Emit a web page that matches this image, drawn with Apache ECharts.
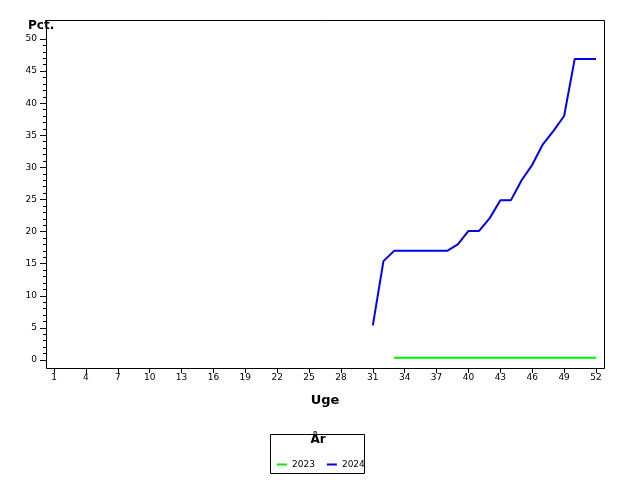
<!DOCTYPE html>
<html><head><meta charset="utf-8">
<script src="https://cdn.jsdelivr.net/npm/echarts@6/dist/echarts.min.js"></script>
<style>html,body{margin:0;padding:0;background:#fff}#c{width:640px;height:480px}</style>
</head><body><div id="c"></div>
<script>
const weeks = Array.from({length:52},(_,i)=>String(i+1));
const s2023 = [null,null,null,null,null,null,null,null,null,null,null,null,null,null,null,null,null,null,null,null,null,null,null,null,null,null,null,null,null,null,null,null,
 0.35,0.35,0.35,0.35,0.35,0.35,0.35,0.35,0.35,0.35,0.35,0.35,0.35,0.35,0.35,0.35,0.35,0.35,0.35,0.35];
const s2024 = [null,null,null,null,null,null,null,null,null,null,null,null,null,null,null,null,null,null,null,null,null,null,null,null,null,null,null,null,null,null,
 5.4,15.4,17.0,17.0,17.0,17.0,17.0,17.0,18.0,20.1,20.1,22.1,24.9,24.9,28.0,30.4,33.6,35.7,38.0,46.9,46.9,46.9];
const ch = echarts.init(document.getElementById('c'));
const f = {fontFamily:'DejaVu Sans', fontSize:9, color:'#000'};
ch.setOption({
  animation:false,
  grid:{left:54,right:44,top:39,bottom:120},
  xAxis:{type:'category',data:weeks,boundaryGap:false,offset:8,
    name:'Uge',nameLocation:'middle',nameGap:26,nameTextStyle:{fontFamily:'DejaVu Sans',fontSize:13,fontWeight:'bold',color:'#000'},
    axisLine:{onZero:false,lineStyle:{color:'#000'}},axisTick:{interval:2,length:5,lineStyle:{color:'#000'}},
    axisLabel:Object.assign({interval:2,margin:5},f),splitLine:{show:false}},
  yAxis:{type:'value',min:0,max:50,interval:5,offset:8,
    axisLine:{show:true,onZero:false,lineStyle:{color:'#000'}},axisTick:{show:true,length:6,lineStyle:{color:'#000'}},
    minorTick:{show:true,splitNumber:5,length:3,lineStyle:{color:'#000'}},
    axisLabel:Object.assign({margin:9},f),splitLine:{show:false}},
  series:[
    {name:'2023',type:'line',data:s2023,symbol:'none',lineStyle:{color:'#00ee00',width:2},itemStyle:{color:'#00ee00'}},
    {name:'2024',type:'line',data:s2024,symbol:'none',lineStyle:{color:'#0000ee',width:2},itemStyle:{color:'#0000ee'}}
  ],
  legend:{left:272,top:455,itemWidth:10,itemHeight:2,itemGap:12,icon:'rect',textStyle:f,data:['2023','2024']},
  graphic:[
    {type:'rect',shape:{x:46.5,y:20.5,width:558,height:348},style:{fill:'none',stroke:'#000',lineWidth:1},silent:true},
    {type:'text',x:28,y:20,style:{text:'Pct.',font:'bold 12px DejaVu Sans',fill:'#000'}},
    {type:'rect',shape:{x:270.5,y:434.5,width:94,height:39},style:{fill:'none',stroke:'#000',lineWidth:1}},
    {type:'text',x:318,y:434,style:{text:'År',font:'bold 12px DejaVu Sans',fill:'#000',align:'center',verticalAlign:'top'}}
  ]
});
</script></body></html>
